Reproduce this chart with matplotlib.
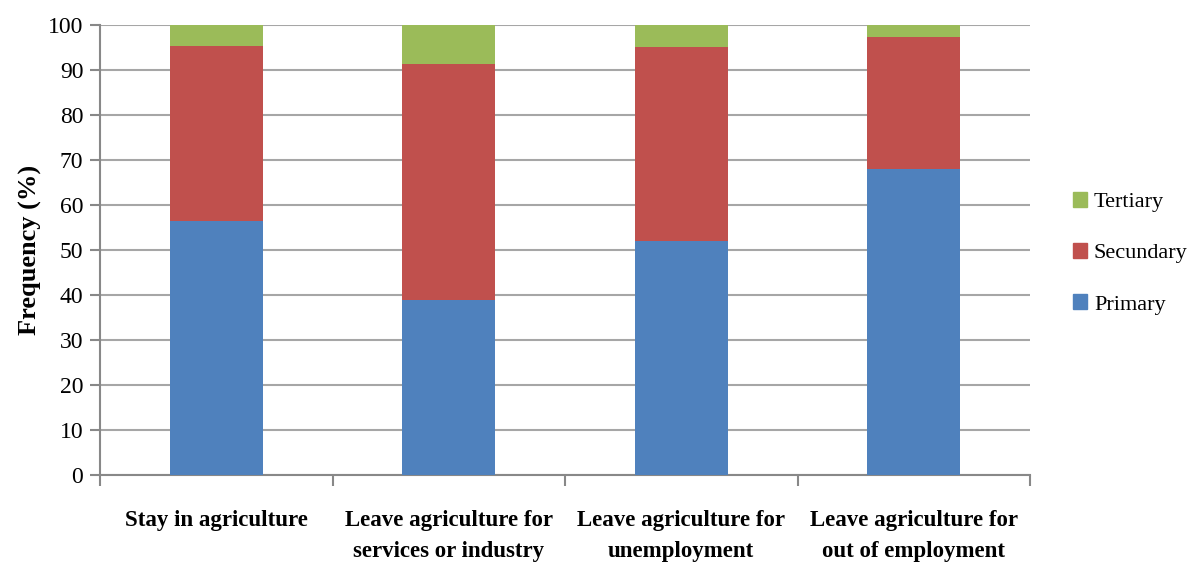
import matplotlib
matplotlib.use("Agg")
import matplotlib.pyplot as plt
import numpy as np
from matplotlib.patches import Patch

categories = ["Stay in agriculture",
              "Leave agriculture for\nservices or industry",
              "Leave agriculture for\nunemployment",
              "Leave agriculture for\nout of employment"]
primary = [56.4, 38.8, 52.1, 68.1]
secundary = [39.0, 52.5, 43.1, 29.3]
tertiary = [4.6, 8.7, 4.8, 2.6]

plt.rcParams['font.family'] = ['Liberation Serif', 'DejaVu Serif']

fig = plt.figure(figsize=(11.92, 5.64), dpi=100)
ax = fig.add_axes([0.0839, 0.158, 0.7802, 0.797])

x = np.arange(len(categories))
width = 0.4
blue, red, green = "#4f81bd", "#c0504d", "#9bbb59"

ax.bar(x, primary, width, color=blue, zorder=3)
ax.bar(x, secundary, width, bottom=primary, color=red, zorder=3)
bottom2 = np.array(primary) + np.array(secundary)
ax.bar(x, tertiary, width, bottom=bottom2, color=green, zorder=3)

ax.set_xlim(-0.5, len(categories) - 0.5)
ax.set_ylim(0, 100)
ax.set_yticks(range(0, 101, 10))
ax.tick_params(axis='y', labelsize=17, length=7, color='#888888', width=1.5, pad=5)
ax.yaxis.grid(True, color='#a6a6a6', linewidth=1.5, zorder=0)

# category labels sit between boundary ticks
ax.set_xticks(np.arange(-0.5, len(categories), 1.0))
ax.set_xticklabels([])
ax.tick_params(axis='x', length=8, color='#888888', width=1.5)
for i, lab in enumerate(categories):
    ax.text(i, -7.8, lab, ha='center', va='top', fontsize=16.5, fontweight='bold',
            linespacing=1.6)

for s in ['top', 'right']:
    ax.spines[s].set_visible(False)
for s in ['left', 'bottom']:
    ax.spines[s].set_color('#888888')
    ax.spines[s].set_linewidth(1.5)

ax.set_ylabel("Frequency (%)", fontsize=19, fontweight='bold', labelpad=4)

handles = [Patch(color=green, label='Tertiary'),
           Patch(color=red, label='Secundary'),
           Patch(color=blue, label='Primary')]
fig.legend(handles=handles, loc='center left', bbox_to_anchor=(0.887, 0.551),
           frameon=False, fontsize=16, handlelength=0.65, handleheight=0.65,
           labelspacing=1.4, handletextpad=0.3, borderpad=0.2)

fig.savefig("out.png", dpi=100)
